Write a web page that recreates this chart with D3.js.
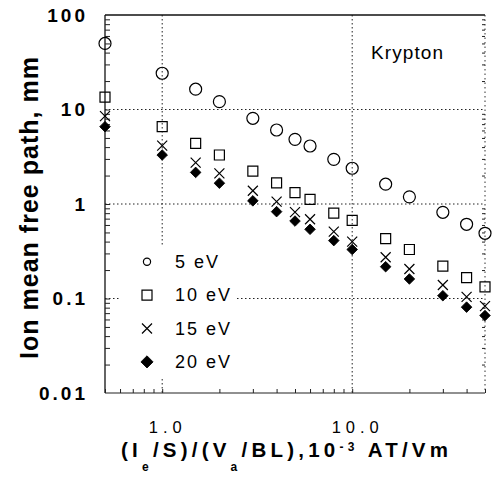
<!DOCTYPE html>
<html><head><meta charset="utf-8">
<script src="https://cdn.jsdelivr.net/npm/d3@7"></script>
<style>body{margin:0;background:#fff}svg{display:block}</style>
</head><body>
<svg id="c" width="496" height="477"></svg>
<script>
// ---- data ----
const xValues = [0.5, 1, 1.5, 2, 3, 4, 5, 6, 8, 10, 15, 20, 30, 40, 50];
const seriesNames = ["5 eV", "10 eV", "15 eV", "20 eV"];
const seriesSymbols = ["circle", "square", "cross", "diamond"];
const values5eV  = [50, 24.2, 16.4, 12.1, 8.07, 6.07, 4.83, 4.11, 2.97, 2.39, 1.62, 1.19, 0.817, 0.61, 0.49];
const values10eV = [13.5, 6.58, 4.39, 3.30, 2.23, 1.67, 1.32, 1.12, 0.80, 0.67, 0.43, 0.33, 0.22, 0.166, 0.133];
const values15eV = [8.5, 4.14, 2.74, 2.11, 1.38, 1.06, 0.82, 0.69, 0.51, 0.40, 0.273, 0.205, 0.139, 0.104, 0.083];
const values20eV = [6.58, 3.30, 2.16, 1.66, 1.08, 0.83, 0.66, 0.54, 0.41, 0.33, 0.217, 0.161, 0.107, 0.081, 0.066];
const xTickValues = [1, 10];
const xTickLabels = ["1.0", "10.0"];
const yTickValues = [0.01, 0.1, 1, 10, 100];
const yTickLabels = ["0.01", "0.1", "1", "10", "100"];
const yGridValues = [0.1, 1, 10];
const xGridValues = [1, 10];
const yTitle = "Ion mean free path, mm";
const annotation = "Krypton";

const allSeries = [values5eV, values10eV, values15eV, values20eV];

// ---- layout ----
const FONT = "'Liberation Sans', Arial, Helvetica, sans-serif";
const L = 105, R = 485, T = 15, B = 393;
const svg = d3.select("#c");
const x = d3.scaleLog().domain([0.5, 50]).range([L, R]);
const y = d3.scaleLog().domain([0.01, 100]).range([B, T]);

function fit(sel, target) {
  sel.style("letter-spacing", "0px");
  const w = sel.node().getComputedTextLength();
  const n = sel.text().length;
  sel.style("letter-spacing", ((target - w) / (n - 1)) + "px");
}

// minor tick values
const yMinor = [];
for (let e = -2; e < 2; e++) for (let m = 2; m <= 9; m++) yMinor.push(m * Math.pow(10, e));
const xMinor = [];
[0.1, 1, 10].forEach(p => { for (let m = 1; m <= 9; m++) { const v = m * p; if (v >= 0.5 && v <= 50) xMinor.push(v); } });

// ---- grid ----
const grid = svg.append("g").attr("stroke", "#222").attr("stroke-width", 1).attr("stroke-dasharray", "1.5,2.5");
grid.selectAll("line.h").data(yGridValues).join("line").attr("class", "h")
  .attr("x1", L).attr("x2", R).attr("y1", d => y(d)).attr("y2", d => y(d));
grid.selectAll("line.v").data(xGridValues).join("line").attr("class", "v")
  .attr("y1", T).attr("y2", B).attr("x1", d => x(d)).attr("x2", d => x(d));

// legend background (covers grid)
svg.append("rect").attr("x", 119).attr("y", 247).attr("width", 117).attr("height", 130).attr("fill", "#fff");

// ---- frame ----
svg.append("line").attr("x1", L).attr("x2", R).attr("y1", T).attr("y2", T).attr("stroke", "#111").attr("stroke-width", 1.6);
svg.append("line").attr("x1", L).attr("x2", L).attr("y1", T).attr("y2", B).attr("stroke", "#111").attr("stroke-width", 1.3);
svg.append("line").attr("x1", L).attr("x2", R).attr("y1", B).attr("y2", B).attr("stroke", "#222").attr("stroke-width", 1.2);
svg.append("line").attr("x1", R).attr("x2", R).attr("y1", T).attr("y2", B).attr("stroke", "#333").attr("stroke-width", 1).attr("stroke-dasharray", "1.5,3");

// minor ticks via axes
const tickStyle = g => { g.select(".domain").remove(); g.selectAll("line").attr("stroke", "#222").attr("stroke-width", 1); };
svg.append("g").attr("transform", `translate(${L},0)`)
  .call(d3.axisRight(y).tickValues(yMinor.concat([0.1, 1, 10])).tickSize(5).tickFormat(""))
  .call(tickStyle);
svg.append("g").attr("transform", `translate(${R},0)`)
  .call(d3.axisLeft(y).tickValues(yMinor).tickSize(3).tickFormat(""))
  .call(tickStyle);
svg.append("g").attr("transform", `translate(0,${B})`)
  .call(d3.axisTop(x).tickValues(xMinor).tickSize(4).tickFormat(""))
  .call(tickStyle);

// y tick labels
const yAx = svg.append("g").attr("transform", `translate(${L},0)`)
  .call(d3.axisLeft(y).tickValues(yTickValues).tickFormat((d, i) => yTickLabels[i]).tickSize(0).tickPadding(17));
yAx.select(".domain").remove();
yAx.selectAll("text").attr("font-family", FONT).attr("font-size", 19).attr("font-weight", "bold")
  .attr("fill", "#000").style("letter-spacing", "3px");

// x tick labels
const xAx = svg.append("g").attr("transform", `translate(0,${B})`)
  .call(d3.axisBottom(x).tickValues(xTickValues).tickFormat((d, i) => xTickLabels[i]).tickSize(0));
xAx.select(".domain").remove();
xAx.selectAll(".tick").attr("transform", d => `translate(${x(d) + 5.5},0)`);
xAx.selectAll("text").attr("font-family", FONT).attr("font-size", 16.5).attr("fill", "#000")
  .attr("y", 40).attr("dy", 0).style("letter-spacing", "5px");

// ---- titles ----
const yt = svg.append("text").attr("transform", "rotate(-90)").attr("x", -359).attr("y", 38)
  .attr("font-family", FONT).attr("font-size", 25).attr("font-weight", "bold").attr("fill", "#000")
  .text(yTitle);
fit(yt, 302);

const xt = svg.append("text").attr("x", 121).attr("y", 457)
  .attr("font-family", FONT).attr("font-size", 20.5).attr("font-weight", "bold").attr("fill", "#000");
xt.append("tspan").text("(I");
xt.append("tspan").attr("dy", 14).attr("font-size", 12).text("e");
xt.append("tspan").attr("dy", -14).text("/S)/(V");
xt.append("tspan").attr("dy", 14).attr("font-size", 12).text("a");
xt.append("tspan").attr("dy", -14).text("/BL),10");
xt.append("tspan").attr("dy", -6).attr("font-size", 12).text("-3");
xt.append("tspan").attr("dy", 6).text(" AT/Vm");
fit(xt, 327);

const kt = svg.append("text").attr("x", 371).attr("y", 59)
  .attr("font-family", FONT).attr("font-size", 19).attr("fill", "#000").text(annotation);
fit(kt, 72);

// ---- markers ----
function drawSymbol(g, type, cx, cy, scale) {
  const s = scale || 1;
  if (type === "circle") {
    g.append("circle").attr("cx", cx).attr("cy", cy).attr("r", 6 * s)
      .attr("fill", "none").attr("stroke", "#000").attr("stroke-width", 1.2);
  } else if (type === "square") {
    g.append("path").attr("d", d3.symbol(d3.symbolSquare, 100 * s * s)())
      .attr("transform", `translate(${cx},${cy})`)
      .attr("fill", "none").attr("stroke", "#000").attr("stroke-width", 1.2);
  } else if (type === "cross") {
    g.append("path").attr("d", d3.symbol(d3.symbolX, 67 * s * s)())
      .attr("transform", `translate(${cx},${cy})`)
      .attr("fill", "none").attr("stroke", "#000").attr("stroke-width", 1.2);
  } else {
    g.append("path").attr("d", d3.symbol(d3.symbolSquare, 56 * s * s)())
      .attr("transform", `translate(${cx},${cy}) rotate(45)`)
      .attr("fill", "#000").attr("stroke", "#000").attr("stroke-width", 0.8);
  }
}
const marks = svg.append("g");
allSeries.forEach((vals, si) => {
  vals.forEach((v, i) => drawSymbol(marks, seriesSymbols[si], x(xValues[i]), y(v)));
});

// ---- legend ----
const leg = svg.append("g");
const legScale = [0.6, 1.0, 1.0, 1.15];
seriesNames.forEach((name, i) => {
  const base = 268 + i * 33.4;
  drawSymbol(leg, seriesSymbols[i], 147, base - 6.3, legScale[i]);
  leg.append("text").attr("x", 175).attr("y", base)
    .attr("font-family", FONT).attr("font-size", 18).attr("fill", "#000")
    .style("letter-spacing", "2px").text(name);
});
</script>
</body></html>
